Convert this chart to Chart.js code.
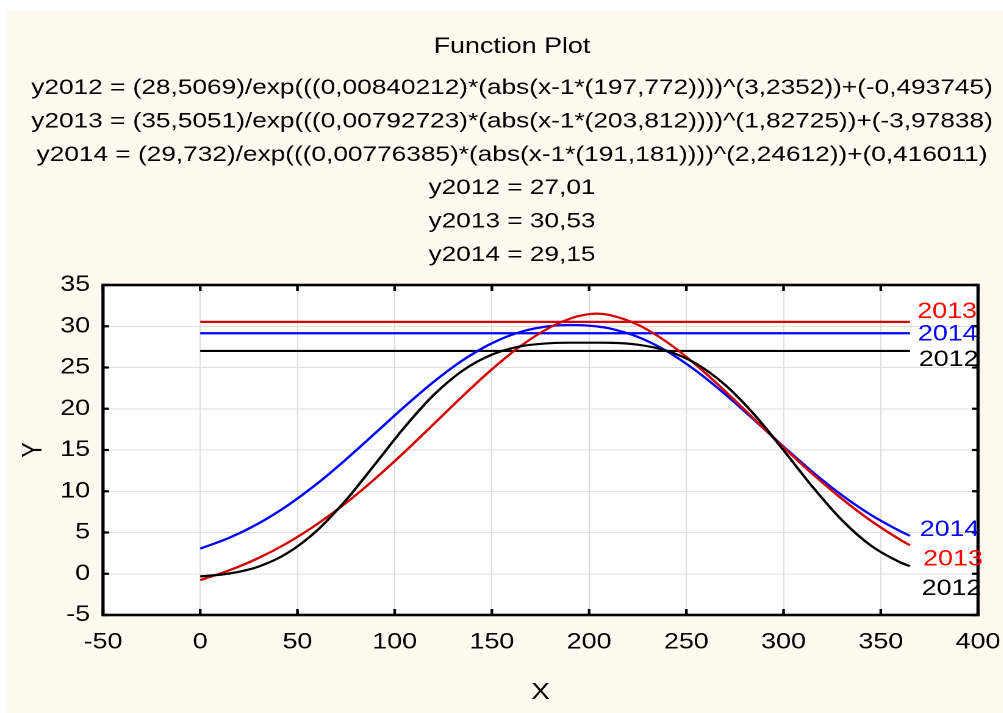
<!DOCTYPE html>
<html lang="en">
<head>
<meta charset="UTF-8">
<title>Function Plot</title>
<script src="https://cdn.jsdelivr.net/npm/chart.js"></script>
<style>
  html, body { margin: 0; padding: 0; background: #fff; overflow: hidden; }
  /* the reference is a horizontally stretched picture, so the chart is drawn narrow and stretched */
  #wrap { width: 822px; height: 713px; transform: scaleX(1.22); transform-origin: 0 0; }
</style>
</head>
<body>
<div id="wrap"><canvas id="grafico" width="822" height="713" style="width:822px;height:713px"></canvas></div>
<script>
const SX = 1.22;

// data
const xs    = [0, 15, 30, 45, 60, 75, 90, 105, 120, 135, 150, 165, 180, 191, 195, 198, 204, 210, 225, 240, 255, 270, 285, 300, 315, 330, 345, 360, 365];
const y2012 = [-0.33, 0.03, 0.87, 2.53, 5.23, 8.94, 13.31, 17.74, 21.65, 24.63, 26.56, 27.58, 27.95, 28.01, 28.01, 28.01, 28.01, 28.00, 27.77, 27.03, 25.47, 22.88, 19.28, 14.97, 10.51, 6.50, 3.40, 1.38, 0.92];
const y2013 = [-0.77, 0.42, 1.91, 3.76, 5.99, 8.58, 11.53, 14.74, 18.13, 21.54, 24.78, 27.64, 29.88, 30.99, 31.25, 31.40, 31.53, 31.38, 30.19, 28.08, 25.31, 22.12, 18.73, 15.33, 12.07, 9.08, 6.41, 4.12, 3.45];
const y2014 = [3.04, 4.36, 6.10, 8.29, 10.90, 13.87, 17.04, 20.24, 23.25, 25.88, 27.94, 29.33, 30.03, 30.15, 30.14, 30.11, 29.98, 29.76, 28.71, 26.97, 24.60, 21.75, 18.62, 15.41, 12.32, 9.52, 7.12, 5.16, 4.60];
const meanX = [0, 365];
const means = [27.01, 30.53, 29.15];   // 2012, 2013, 2014
const xTicks = [-50, 0, 50, 100, 150, 200, 250, 300, 350, 400];
const yTicks = [-5, 0, 5, 10, 15, 20, 25, 30, 35];

const titulo = 'Function Plot';
const linhas = [
  'y2012 = (28,5069)/exp(((0,00840212)*(abs(x-1*(197,772))))^(3,2352))+(-0,493745)',
  'y2013 = (35,5051)/exp(((0,00792723)*(abs(x-1*(203,812))))^(1,82725))+(-3,97838)',
  'y2014 = (29,732)/exp(((0,00776385)*(abs(x-1*(191,181))))^(2,24612))+(0,416011)',
  'y2012 = 27,01',
  'y2013 = 30,53',
  'y2014 = 29,15'
];

const FONTE = '"Liberation Sans", Arial, sans-serif';
Chart.defaults.font.family = FONTE;
Chart.defaults.color = '#000';

const pontos = ys => xs.map((x, i) => ({ x: x, y: ys[i] }));
const reta = v => meanX.map(x => ({ x: x, y: v }));

const estilo = cor => ({
  borderColor: cor, borderWidth: 2.2, pointRadius: 0, showLine: true,
  fill: false, cubicInterpolationMode: 'monotone'
});

const etiquetas = [
  { texto: '2013', cor: '#ff0000', valor: means[1], dx: 6,    dy: -10 },
  { texto: '2014', cor: '#0000ff', valor: means[2], dx: 6.5,  dy: 1 },
  { texto: '2012', cor: '#000000', valor: means[0], dx: 7.3,  dy: 9 },
  { texto: '2014', cor: '#0000ff', valor: y2014[y2014.length - 1], dx: 8,    dy: -6 },
  { texto: '2013', cor: '#ff0000', valor: y2013[y2013.length - 1], dx: 10.8, dy: 14 },
  { texto: '2012', cor: '#000000', valor: y2012[y2012.length - 1], dx: 9.6,  dy: 23 }
];

const fundo = {
  id: 'fundo',
  beforeDraw(chart) {
    const { ctx, width, height, chartArea: a } = chart;
    ctx.save();
    ctx.fillStyle = '#ffffff';
    ctx.fillRect(0, 0, width, height);
    ctx.fillStyle = '#fffaf0';
    ctx.fillRect(7 / SX, 10, width, height);
    ctx.fillStyle = '#ffffff';
    ctx.fillRect(a.left, a.top, a.right - a.left, a.bottom - a.top);
    ctx.restore();
  }
};

const moldura = {
  id: 'moldura',
  afterDatasetsDraw(chart) {
    const { ctx, chartArea: a, scales: { x, y } } = chart;
    ctx.save();
    ctx.strokeStyle = '#000';
    ctx.lineWidth = 2.6;
    ctx.strokeRect(a.left, a.top, a.right - a.left, a.bottom - a.top);
    // ticks pointing inwards on all four sides
    ctx.lineWidth = 2.2;
    ctx.beginPath();
    xTicks.forEach(v => {
      const px = x.getPixelForValue(v);
      ctx.moveTo(px, a.top); ctx.lineTo(px, a.top + 6);
      ctx.moveTo(px, a.bottom); ctx.lineTo(px, a.bottom - 6);
    });
    yTicks.forEach(v => {
      const py = y.getPixelForValue(v);
      ctx.moveTo(a.left, py); ctx.lineTo(a.left + 6 / SX, py);
      ctx.moveTo(a.right, py); ctx.lineTo(a.right - 6 / SX, py);
    });
    ctx.stroke();

    // series names at the line ends
    ctx.font = '22px ' + FONTE;
    ctx.textAlign = 'left';
    ctx.textBaseline = 'middle';
    const xFim = x.getPixelForValue(meanX[meanX.length - 1]);
    etiquetas.forEach(e => {
      ctx.fillStyle = e.cor;
      ctx.fillText(e.texto, xFim + e.dx, y.getPixelForValue(e.valor) + e.dy);
    });
    ctx.restore();
  }
};

const textos = {
  id: 'textos',
  afterDraw(chart) {
    const { ctx, chartArea: a } = chart;
    const cx = 512 / SX;
    ctx.save();
    ctx.fillStyle = '#000';
    ctx.textAlign = 'center';
    ctx.textBaseline = 'alphabetic';
    ctx.font = '22px ' + FONTE;
    ctx.fillText(titulo, cx, 52.9);
    ctx.font = '21.5px ' + FONTE;
    const centros = [86.5, 119.8, 153.1, 186.5, 219.8, 253.2];
    linhas.forEach((t, i) => ctx.fillText(t, cx, centros[i] + 7.7));

    // axis titles
    ctx.font = '23px ' + FONTE;
    ctx.textBaseline = 'middle';
    ctx.fillText('X', (a.left + a.right) / 2, 692.5);
    ctx.translate(27.7, (a.top + a.bottom) / 2);
    ctx.rotate(-Math.PI / 2);
    ctx.fillText('Y', 0, 0);
    ctx.restore();
  }
};

const ctx = document.getElementById('grafico');

const grafico = new Chart(ctx, {
  type: 'scatter',
  data: {
    datasets: [
      Object.assign({ label: '2012', data: pontos(y2012) }, estilo('#000000')),
      Object.assign({ label: '2013', data: pontos(y2013) }, estilo('#d40000')),
      Object.assign({ label: '2014', data: pontos(y2014) }, estilo('#0000ff')),
      Object.assign({ label: 'm2012', data: reta(means[0]) }, estilo('#000000')),
      Object.assign({ label: 'm2013', data: reta(means[1]) }, estilo('#d40000')),
      Object.assign({ label: 'm2014', data: reta(means[2]) }, estilo('#0000ff'))
    ]
  },
  options: {
    responsive: false,
    animation: false,
    devicePixelRatio: 2,
    layout: { padding: { left: 0, right: 822 - 978 / SX, top: 285, bottom: 0 } },
    plugins: { legend: { display: false }, tooltip: { enabled: false } },
    scales: {
      x: {
        type: 'linear',
        min: xTicks[0],
        max: xTicks[xTicks.length - 1],
        afterBuildTicks: s => { s.ticks = xTicks.map(v => ({ value: v })); },
        afterFit: s => { s.height = 713 - 615; s.paddingLeft = 0; s.paddingRight = 0; },
        ticks: { font: { size: 22 }, padding: 14, maxRotation: 0, autoSkip: false },
        grid: { color: '#dddddd', lineWidth: 1, drawTicks: false },
        border: { display: false }
      },
      y: {
        type: 'linear',
        min: yTicks[0],
        max: yTicks[yTicks.length - 1],
        afterBuildTicks: s => { s.ticks = yTicks.map(v => ({ value: v })); },
        afterFit: s => { s.width = 103 / SX; s.paddingTop = 0; s.paddingBottom = 0; },
        ticks: { font: { size: 22 }, padding: 10.6, autoSkip: false },
        grid: { color: '#dddddd', lineWidth: 1, drawTicks: false },
        border: { display: false }
      }
    }
  },
  plugins: [fundo, moldura, textos]
});
</script>
</body>
</html>
